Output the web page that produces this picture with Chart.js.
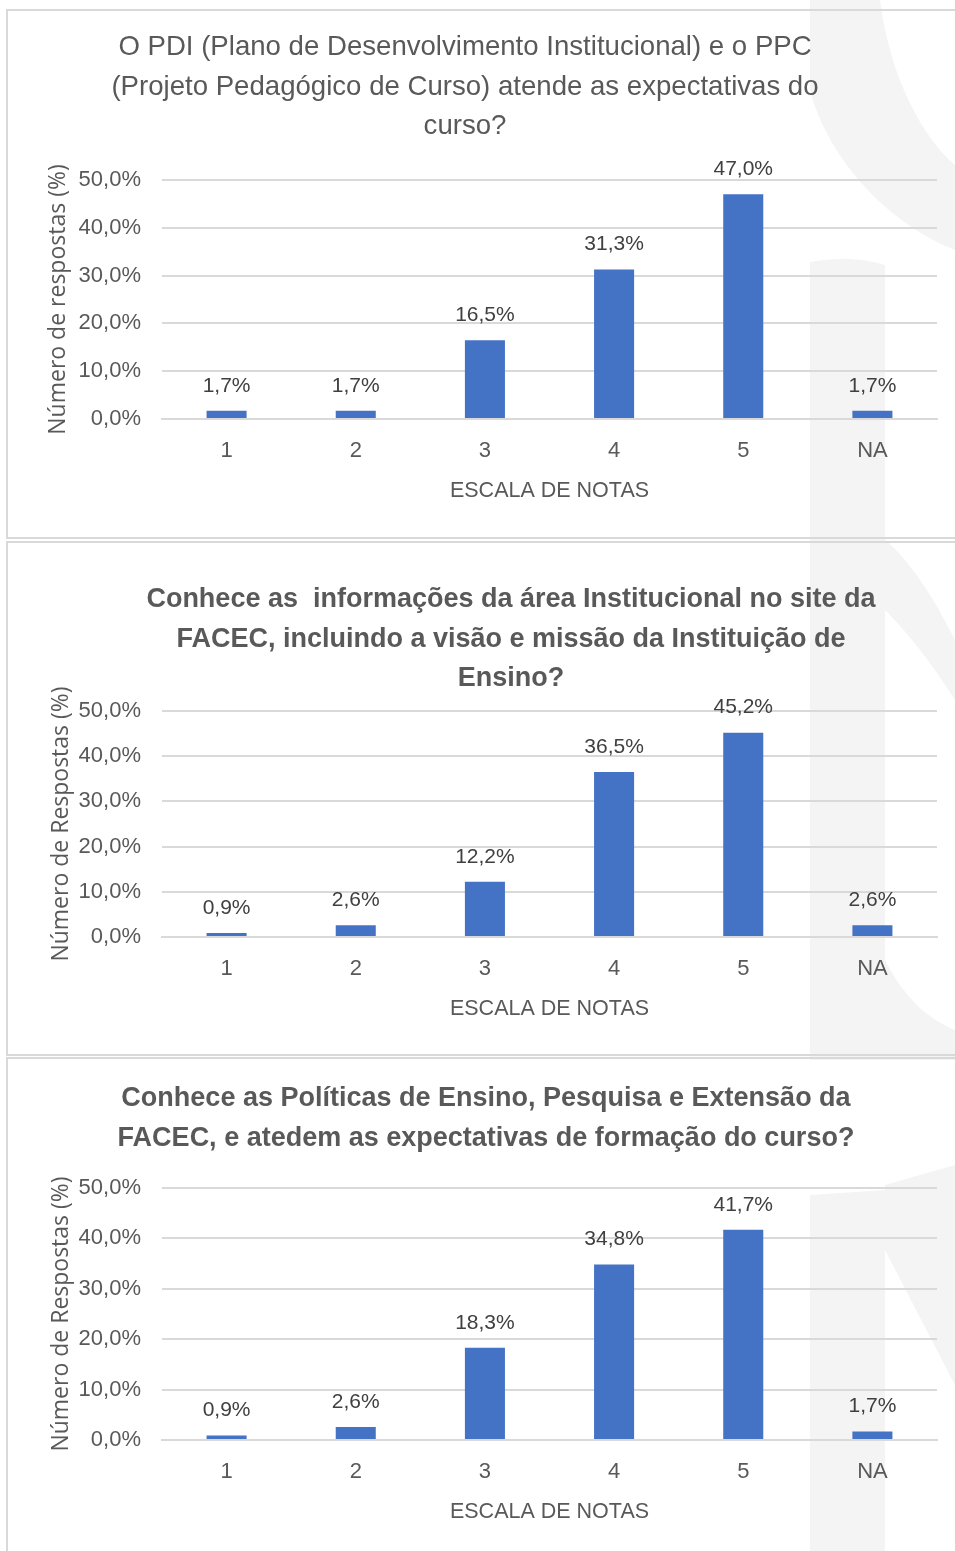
<!DOCTYPE html>
<html><head><meta charset="utf-8">
<script src="https://cdn.jsdelivr.net/npm/chart.js@4.4.1/dist/chart.umd.min.js"></script>
<style>
html,body{margin:0;padding:0;background:#fff;}
body{width:955px;height:1551px;position:relative;overflow:hidden;}
.wm{position:absolute;left:0;top:0;}
.panel{position:absolute;left:6px;width:960px;border:2px solid #d9d9d9;box-sizing:border-box;}
.title{position:absolute;color:#595959;white-space:pre;text-align:center;transform:translateX(-50%);
 font-family:'Liberation Sans',Arial,sans-serif;font-size:27.6px;line-height:39.5px;}
.title.b{font-weight:bold;font-size:27px;}
.cv{position:absolute;left:0;width:955px;}
</style></head>
<body>
<svg class="wm" width="955" height="1551" viewBox="0 0 955 1551">
  <g fill="#f4f4f4">
    <path d="M810,0 L880,0 C 890,80 925,140 955,165 L955,250 C 880,220 825,150 810,90 Z"/>
    <path d="M810,262 C 835,257 865,258 885,265 L885,960 C 905,1000 930,1020 955,1030 L955,1060 L810,1060 Z"/>
    <path d="M885,540 C 910,560 935,600 955,640 L955,700 C 930,660 905,630 885,610 Z"/>
    <path d="M810,1195 L885,1190 L885,1551 L810,1551 Z"/>
    <path d="M885,1185 L955,1165 L955,1385 L885,1250 Z"/>
  </g>
</svg>

<div class="panel" style="top:9px;height:530px;"></div>
<div class="panel" style="top:541px;height:515px;"></div>
<div class="panel" style="top:1057px;height:520px;"></div>

<div class="cv" style="top:140px;height:369px;"><canvas id="c1"></canvas></div>
<div class="cv" style="top:671px;height:356px;"><canvas id="c2"></canvas></div>
<div class="cv" style="top:1148px;height:382px;"><canvas id="c3"></canvas></div>

<div class="title" style="left:465px;top:26px;">O PDI (Plano de Desenvolvimento Institucional) e o PPC
(Projeto Pedagógico de Curso) atende as expectativas do
curso?</div>
<div class="title b" style="left:511px;top:579px;">Conhece as  informações da área Institucional no site da
FACEC, incluindo a visão e missão da Instituição de
Ensino?</div>
<div class="title b" style="left:486px;top:1078px;">Conhece as Políticas de Ensino, Pesquisa e Extensão da
FACEC, e atedem as expectativas de formação do curso?</div>

<script>
const categories = ['1', '2', '3', '4', '5', 'NA'];
const pdiValues = [1.7, 1.7, 16.5, 31.3, 47.0, 1.7];
const infoValues = [0.9, 2.6, 12.2, 36.5, 45.2, 2.6];
const politicasValues = [0.9, 2.6, 18.3, 34.8, 41.7, 1.7];
const yTickValues = [0, 10, 20, 30, 40, 50];
const xAxisTitle = 'ESCALA DE NOTAS';
const yTitle1 = 'Número de respostas (%)';
const yTitle2 = 'Número de Respostas (%)';
const yTitle3 = 'Número de Respostas (%)';

const SANS = "'Liberation Sans',Arial,sans-serif";
const WIDE = "'Open Sans','Noto Sans',sans-serif";
const fmt = v => v.toFixed(1).replace('.', ',') + '%';

const dataLabels = {
  id: 'dataLabels',
  afterDatasetsDraw(chart) {
    const ctx = chart.ctx;
    const meta = chart.getDatasetMeta(0);
    const vals = chart.data.datasets[0].data;
    ctx.save();
    ctx.font = '21px ' + SANS;
    ctx.fillStyle = '#404040';
    ctx.textAlign = 'center';
    ctx.textBaseline = 'middle';
    meta.data.forEach((bar, i) => {
      ctx.fillText(fmt(vals[i]), bar.x, bar.y - 25);
    });
    ctx.restore();
  }
};

function makeChart(id, values, yTitle, yTitleX) {
  new Chart(document.getElementById(id), {
    type: 'bar',
    data: {
      labels: categories,
      datasets: [{
        data: values,
        backgroundColor: '#4472C4',
        borderWidth: 0,
        barPercentage: 0.31,
        categoryPercentage: 1
      }]
    },
    options: {
      responsive: true,
      maintainAspectRatio: false,
      animation: false,
      devicePixelRatio: 1,
      layout: { padding: { top: 40, right: 18, left: 0, bottom: 0 } },
      plugins: { legend: { display: false }, tooltip: { enabled: false }, title: { display: false } },
      scales: {
        x: {
          grid: { display: false, drawTicks: false },
          border: { display: true, color: '#d9d9d9', width: 2 },
          ticks: { color: '#595959', padding: 19, font: { family: SANS, size: 22, lineHeight: 1.2 } },
          title: { display: true, text: xAxisTitle, color: '#595959', padding: { top: 0, bottom: 5 },
                   font: { family: SANS, size: 21.5, lineHeight: 1.2 } },
          afterFit: s => { s.height = 90; }
        },
        y: {
          min: 0, max: 50,
          afterBuildTicks: s => { s.ticks = yTickValues.map(v => ({ value: v })); },
          grid: { color: '#d9d9d9', lineWidth: 2, drawTicks: false },
          border: { display: false },
          ticks: { color: '#595959', padding: 21, callback: v => fmt(v),
                   font: { family: SANS, size: 22, lineHeight: 1.2 } },
          title: { display: true, text: yTitle, color: '#595959', padding: { top: yTitleX - 13.8, bottom: 0 },
                   font: { family: WIDE, size: 23, lineHeight: 1.2 } },
          afterFit: s => { s.width = 162; }
        }
      }
    },
    plugins: [dataLabels]
  });
}

makeChart('c1', pdiValues, yTitle1, 58);
makeChart('c2', infoValues, yTitle2, 61);
makeChart('c3', politicasValues, yTitle3, 61);
</script>
</body></html>
